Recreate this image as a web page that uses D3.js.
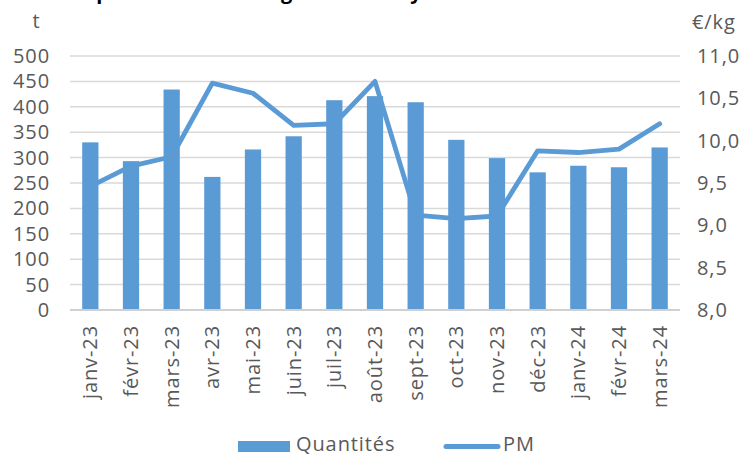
<!DOCTYPE html>
<html><head><meta charset="utf-8">
<script src="https://cdn.jsdelivr.net/npm/d3@7"></script>
<style>body{margin:0;background:#fff}svg{display:block}</style>
</head><body>
<script>
const categories = ["janv-23","févr-23","mars-23","avr-23","mai-23","juin-23","juil-23","août-23","sept-23","oct-23","nov-23","déc-23","janv-24","févr-24","mars-24"];
const quantites = [330,293,434,262,316,342,413,421,409,335,299,271,284,281,320];
const prixMoyen = [9.46,9.70,9.81,10.68,10.56,10.18,10.20,10.70,9.12,9.08,9.11,9.88,9.86,9.90,10.20];
const leftTicks = [0,50,100,150,200,250,300,350,400,450,500];
const rightTicks = [8.0,8.5,9.0,9.5,10.0,10.5,11.0];
const titleText = "Importations de mangues dont Royaume-Uni";

const W=739,H=457;
const font="'Open Sans', sans-serif";
const grey="#595959", blue="#5b9bd5";
const LS="0.9px";
const svg=d3.select("body").append("svg").attr("width",W).attr("height",H);
const x=d3.scaleBand().domain(categories).range([70,680]).paddingInner(0.6).paddingOuter(0.3);
const yL=d3.scaleLinear().domain([0,500]).range([310,56]);
const yR=d3.scaleLinear().domain([8,11]).range([310,56]);

// title (clipped at top, as in the reference)
svg.append("text").attr("x",70).attr("y",-1).attr("font-family",font).attr("font-weight","bold")
  .attr("font-size",20).attr("fill","#000").text(titleText);

// gridlines
svg.append("g").selectAll("line").data(leftTicks.filter(d=>d>0)).join("line")
  .attr("x1",70).attr("x2",680).attr("y1",d=>yL(d)).attr("y2",d=>yL(d))
  .attr("stroke","#d9d9d9").attr("stroke-width",1.5);

// bars
svg.append("g").selectAll("rect").data(quantites).join("rect")
  .attr("x",(d,i)=>x(categories[i])).attr("width",x.bandwidth())
  .attr("y",d=>yL(d)).attr("height",d=>yL(0)-yL(d)).attr("fill",blue);

// axis line
svg.append("line").attr("x1",70).attr("x2",680).attr("y1",310).attr("y2",310)
  .attr("stroke","#d0d0d0").attr("stroke-width",2);

// line
const line=d3.line().x((d,i)=>x(categories[i])+x.bandwidth()/2).y(d=>yR(d));
svg.append("path").datum(prixMoyen).attr("d",line).attr("fill","none")
  .attr("stroke",blue).attr("stroke-width",4.8).attr("stroke-linejoin","round").attr("stroke-linecap","round");

// left axis
const la=svg.append("g").attr("transform","translate(50,0)")
  .call(d3.axisLeft(yL).tickValues(leftTicks).tickSize(0).tickPadding(0).tickFormat(d3.format("d")));
la.select(".domain").remove();
la.selectAll("text").attr("font-family",font).attr("font-size",20).attr("fill",grey).attr("letter-spacing",LS);

// right axis
const ra=svg.append("g").attr("transform","translate(697,0)")
  .call(d3.axisRight(yR).tickValues(rightTicks).tickSize(0).tickPadding(0).tickFormat(d=>d.toFixed(1).replace(".",",")));
ra.select(".domain").remove();
ra.selectAll("text").attr("font-family",font).attr("font-size",20).attr("fill",grey).attr("letter-spacing",LS);

// x axis labels
const xa=svg.append("g").attr("transform","translate(0,310)")
  .call(d3.axisBottom(x).tickSize(0).tickPadding(0));
xa.select(".domain").remove();
xa.selectAll("text").attr("font-family",font).attr("font-size",20).attr("fill",grey).attr("letter-spacing",LS)
  .attr("transform","rotate(-90)").attr("text-anchor","end").attr("x",-15).attr("y",0).attr("dy","0.35em");

// units
svg.append("text").attr("x",36).attr("y",28).attr("text-anchor","middle").attr("font-family",font).attr("font-size",20).attr("fill",grey).text("t");
svg.append("text").attr("x",692).attr("y",29).attr("font-family",font).attr("font-size",20).attr("fill",grey).attr("letter-spacing",LS).text("€/kg");

// legend
svg.append("rect").attr("x",238).attr("y",441).attr("width",52).attr("height",11).attr("fill",blue);
svg.append("text").attr("x",296).attr("y",451).attr("font-family",font).attr("font-size",20).attr("fill",grey).attr("letter-spacing",LS).text("Quantités");
svg.append("line").attr("x1",446).attr("x2",498).attr("y1",446.5).attr("y2",446.5).attr("stroke",blue).attr("stroke-width",5).attr("stroke-linecap","round");
svg.append("text").attr("x",503).attr("y",451).attr("font-family",font).attr("font-size",20).attr("fill",grey).attr("letter-spacing",LS).text("PM");
</script>
</body></html>
